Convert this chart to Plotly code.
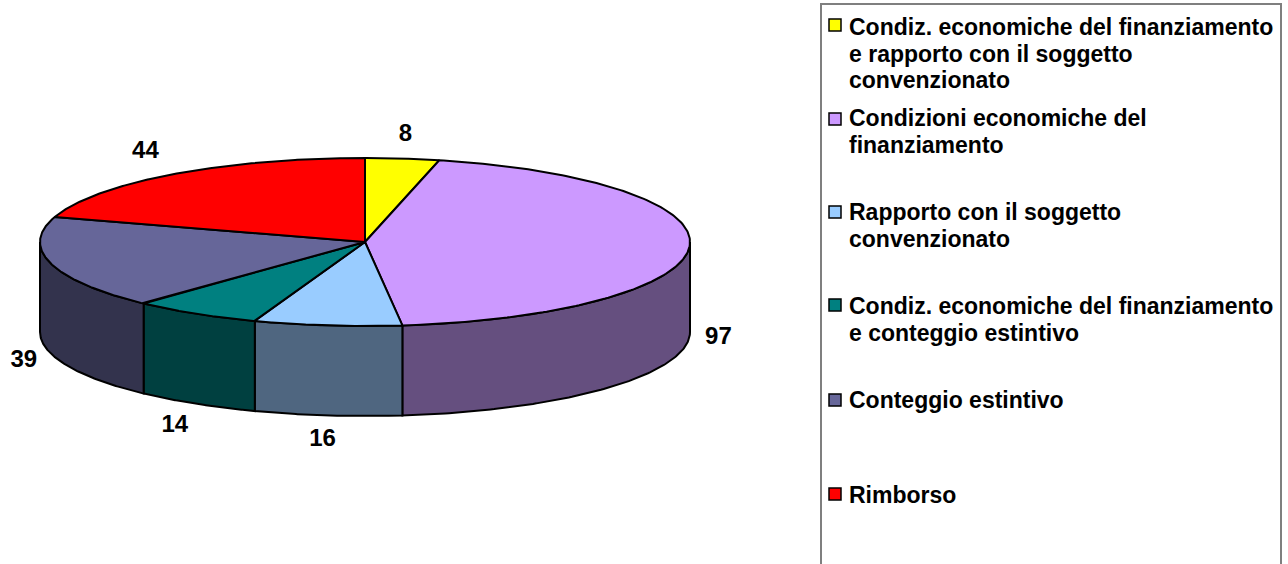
import numpy as np
import plotly.graph_objects as go

# --- data ---
categories = [
    "Condiz. economiche del finanziamento<br>e rapporto con il soggetto<br>convenzionato",
    "Condizioni economiche del<br>finanziamento",
    "Rapporto con il soggetto<br>convenzionato",
    "Condiz. economiche del finanziamento<br>e conteggio estintivo",
    "Conteggio estintivo",
    "Rimborso",
]
values = [8, 97, 16, 14, 39, 44]

# --- style ---
top_colors = ["#FFFF00", "#CC99FF", "#99CCFF", "#008080", "#666699", "#FF0000"]
side_colors = ["#808000", "#654F7F", "#4F6680", "#004040", "#33334D", "#800000"]
FONT = "Liberation Sans, Arial, sans-serif"
CX, CY, RX, RY, DEPTH = 365, 242, 325, 84, 90
label_offsets = [(3, -24), (29, 1), (-5, 25), (-21, 22), (-27, 7), (-27, -22)]
legend_marker_y = [25, 119, 212, 305, 400, 494]
legend_first_line_y = [27, 118, 212, 306, 400, 495]
LINE_STEP = 26.5
LEGEND_MARKER_X, LEGEND_TEXT_X = 835, 847


def px(theta):
    return CX + RX * np.sin(theta)


def py(theta):
    return CY - RY * np.cos(theta)


fracs = np.cumsum([0] + values) / sum(values) * 2 * np.pi
fig = go.Figure()

# side walls (front half only)
for i in range(len(values)):
    a, b = max(fracs[i], np.pi / 2), min(fracs[i + 1], 3 * np.pi / 2)
    if a >= b:
        continue
    t = np.linspace(a, b, 120)
    xs = np.concatenate([px(t), px(t[::-1]), [px(t[0])]])
    ys = np.concatenate([py(t), py(t[::-1]) + DEPTH, [py(t[0])]])
    fig.add_trace(go.Scatter(x=xs, y=ys, mode="lines", fill="toself",
                             fillcolor=side_colors[i],
                             line=dict(color="#000000", width=2), hoverinfo="skip"))

# top face
for i in range(len(values)):
    t = np.linspace(fracs[i], fracs[i + 1], 200)
    xs = np.concatenate([[CX], px(t), [CX]])
    ys = np.concatenate([[CY], py(t), [CY]])
    fig.add_trace(go.Scatter(x=xs, y=ys, mode="lines", fill="toself",
                             fillcolor=top_colors[i],
                             line=dict(color="#000000", width=2), hoverinfo="skip"))

# data labels, placed from the slice mid-angle
mid = (fracs[:-1] + fracs[1:]) / 2
on_wall = [False, True, True, True, True, False]
lx = [px(m) + o[0] for m, o in zip(mid, label_offsets)]
ly = [py(m) + (DEPTH if w else 0) + o[1] for m, o, w in zip(mid, label_offsets, on_wall)]
fig.add_trace(go.Scatter(x=lx, y=ly, mode="text", text=[str(v) for v in values],
                         textposition="middle center",
                         textfont=dict(family=FONT, size=24, color="#000000"),
                         texttemplate="<b>%{text}</b>", hoverinfo="skip"))

# legend markers
fig.add_trace(go.Scatter(x=[LEGEND_MARKER_X] * len(values), y=legend_marker_y, mode="markers",
                         marker=dict(symbol="square", size=12, color=top_colors,
                                     line=dict(color="#000000", width=1.5)),
                         hoverinfo="skip"))

annotations = []
for c, y0 in zip(categories, legend_first_line_y):
    for j, line in enumerate(c.split("<br>")):
        annotations.append(dict(
            x=LEGEND_TEXT_X, y=y0 + j * LINE_STEP, text=f"<b>{line}</b>", xref="x", yref="y",
            showarrow=False, xanchor="left", yanchor="middle", align="left",
            font=dict(family=FONT, size=23, color="#000000")))

fig.update_layout(
    width=1288, height=564, margin=dict(l=0, r=0, t=0, b=0),
    paper_bgcolor="#FFFFFF", plot_bgcolor="#FFFFFF", showlegend=False,
    xaxis=dict(range=[0, 1288], visible=False, fixedrange=True),
    yaxis=dict(range=[564, 0], visible=False, fixedrange=True),
    annotations=annotations,
    shapes=[dict(type="rect", xref="x", yref="y", x0=821, x1=1281, y0=4, y1=600,
                 line=dict(color="#7F7F7F", width=2), fillcolor="rgba(0,0,0,0)", layer="below")],
)
fig.write_html("out.html", post_script="document.body.style.margin='0';",
               config=dict(displayModeBar=False))
